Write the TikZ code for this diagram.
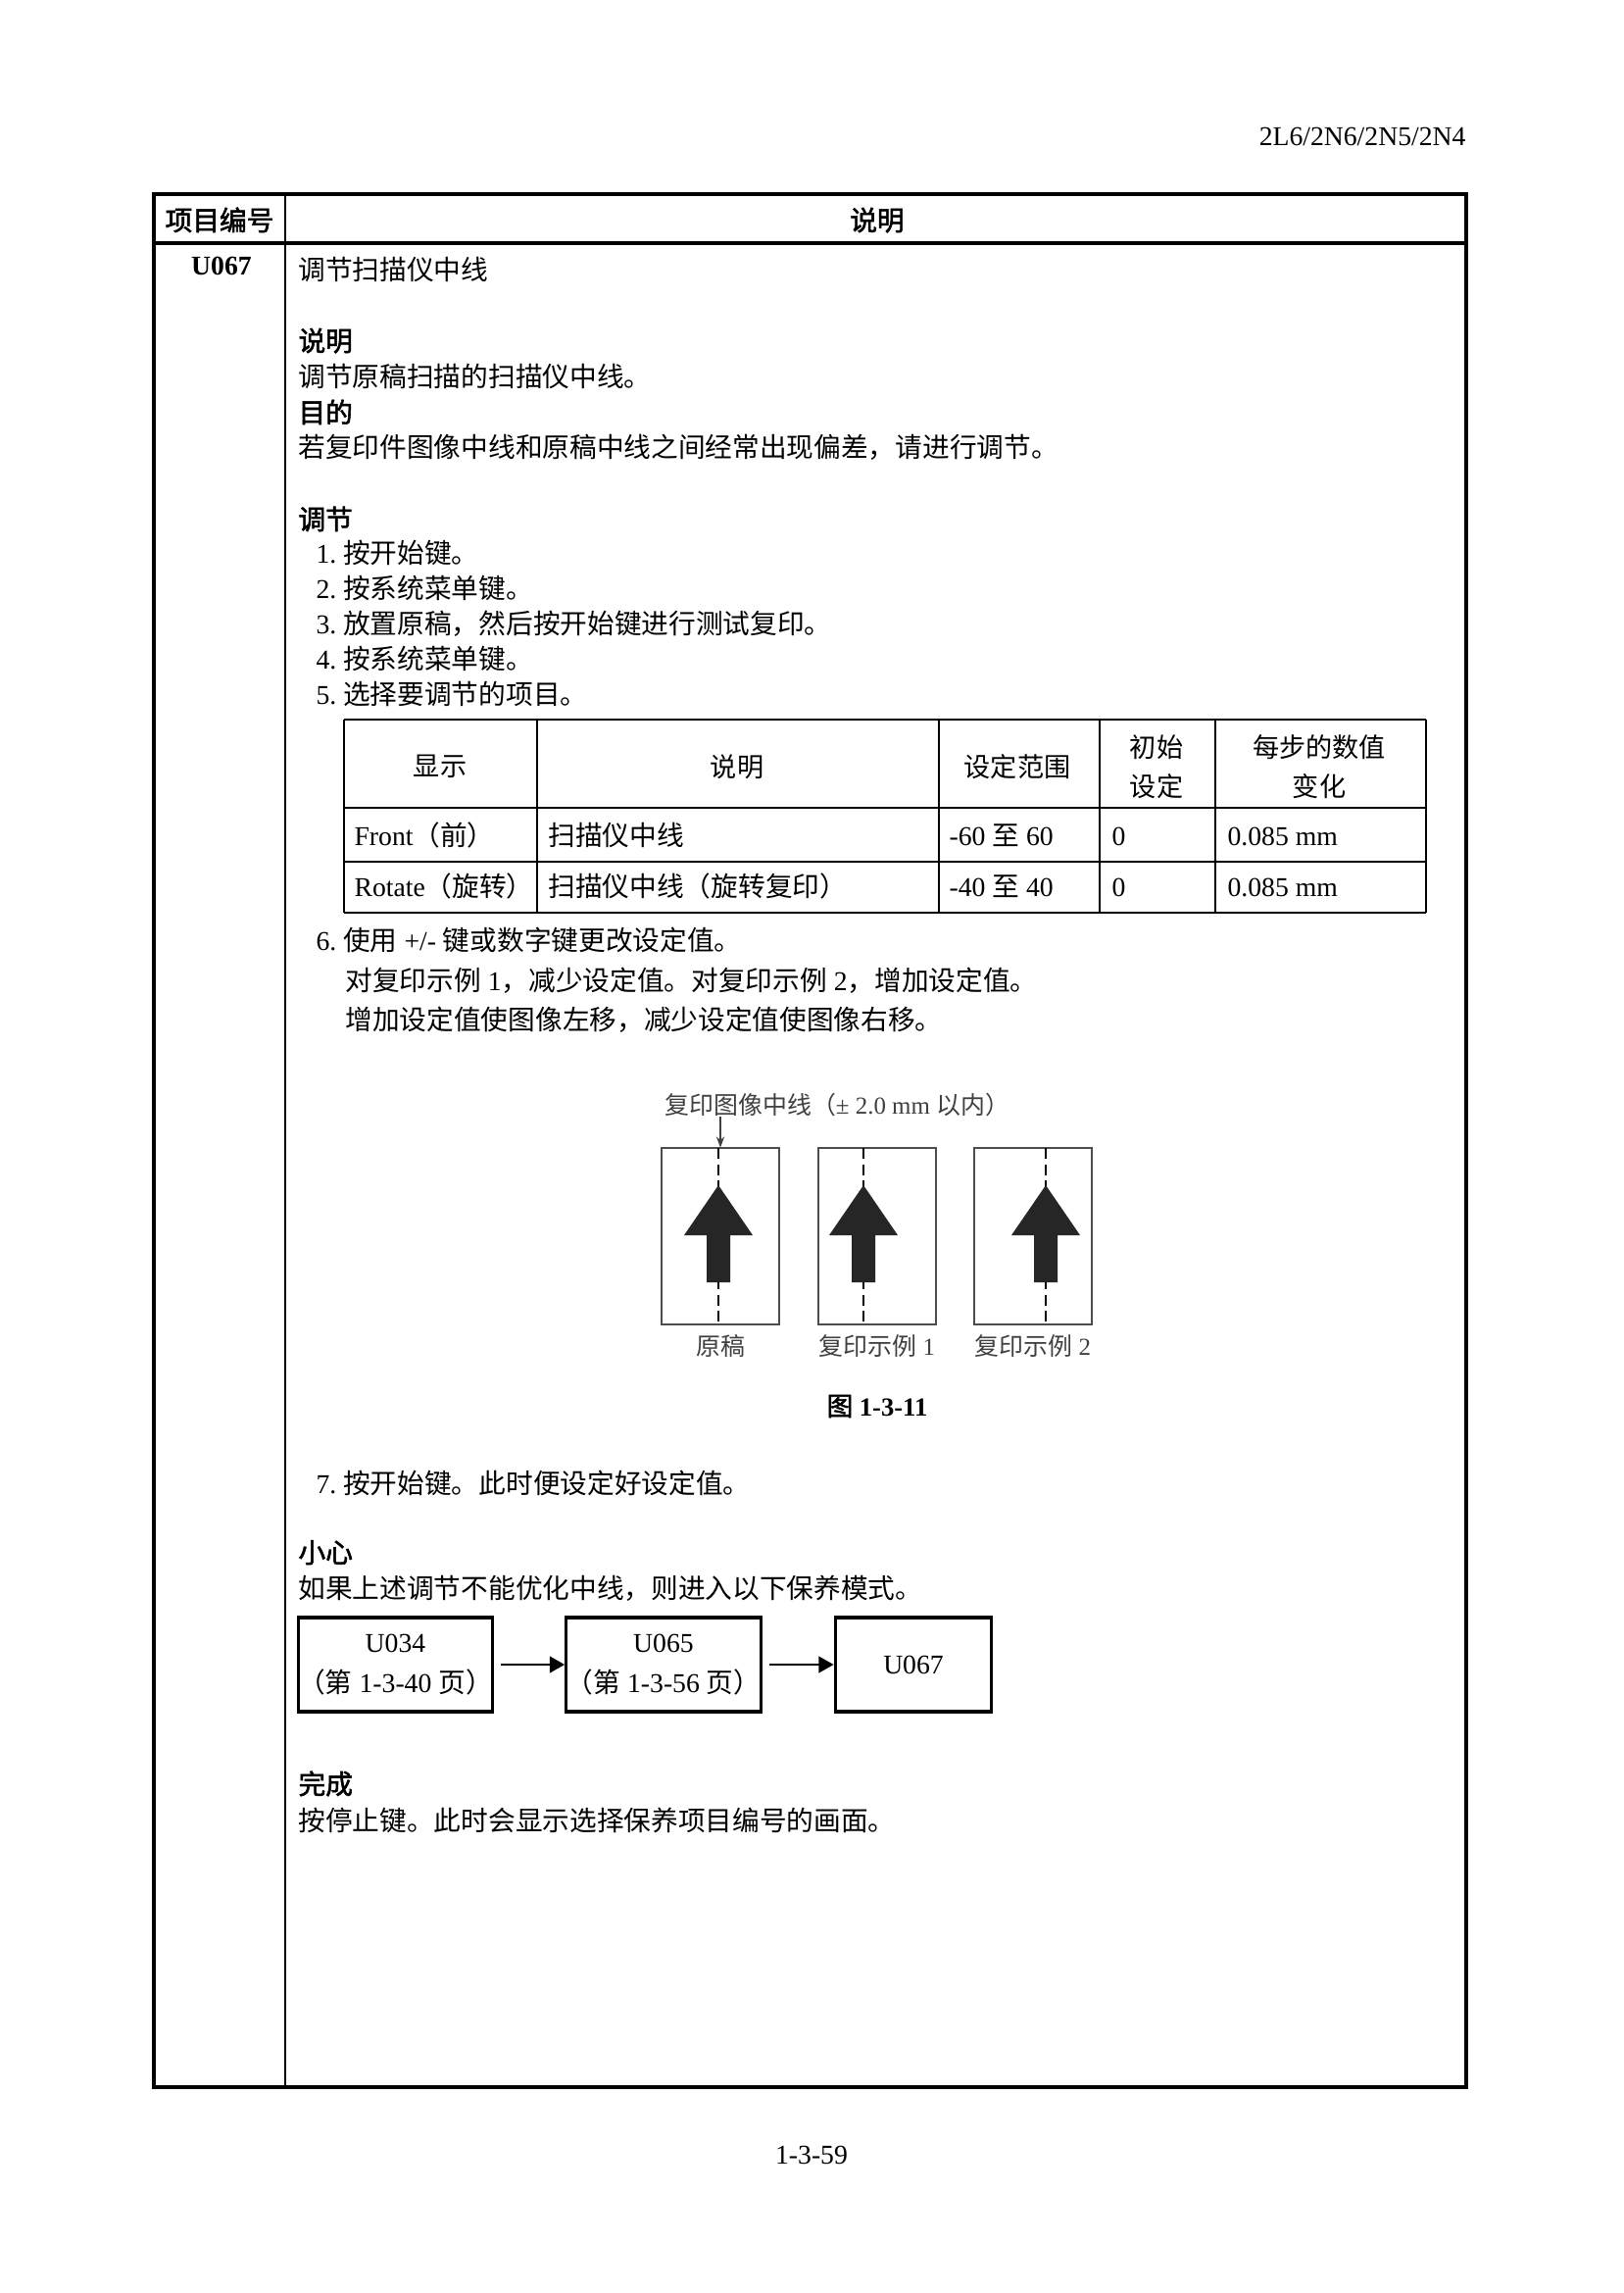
\documentclass[tikz,border=0pt]{standalone}
\usepackage{fontspec}
\setmainfont{Liberation Serif}
\newfontfamily\cjk{Noto Sans CJK SC}[BoldFont={Noto Sans CJK SC},BoldFeatures={FakeBold=2}]
\usetikzlibrary{arrows.meta}
\newcommand\zh[1]{{\cjk #1}}

\begin{document}
\begin{tikzpicture}[
  x=0.0127cm, y=-0.0127cm,
  txt/.style={anchor=base west,inner sep=0pt,font=\fontsize{10}{12}\selectfont},
  bold/.style={txt,font=\fontsize{10}{12}\selectfont\bfseries},
  cell/.style={anchor=base west,inner sep=0pt,font=\fontsize{10}{12}\selectfont},
  cellzh/.style={inner sep=0pt,align=center,font=\fontsize{9.8}{14.4}\selectfont\cjk},
  frame/.style={line width=1.2pt},
  rule/.style={line width=0.7pt},
  paper/.style={draw=black!70,line width=0.6pt,minimum width=43.2pt,minimum height=64.8pt,inner sep=0pt},
  ctrline/.style={line width=0.7pt,dash pattern=on 4pt off 2pt},
  upfill/.style={fill=black!85},
  figtxt/.style={anchor=base,inner sep=0pt,text=black!75,font=\fontsize{9}{11}\selectfont},
  umode/.style={draw,line width=1.2pt,minimum height=34.6pt,align=center,inner sep=0pt,font=\fontsize{10}{15}\selectfont},
  flow/.style={-{Triangle[length=5.5pt,width=6pt]},line width=0.8pt,shorten <=2.5pt}
]
\fill[white] (0,0) rectangle (1656,2339);
\useasboundingbox (0,0) rectangle (1656,2339);

% page head and foot
\node[anchor=base east,inner sep=0pt,font=\fontsize{10}{12}\selectfont] (model) at (1496,149) {2L6/2N6/2N5/2N4};
\node[anchor=base,inner sep=0pt,font=\fontsize{10}{12}\selectfont] (pageno) at (828,2207) {1-3-59};

% main table
\draw[frame] (157,198) rectangle (1496,2129);
\draw[frame] (157,248) -- (1496,248);
\draw[rule] (291,198) -- (291,2129);
\node[bold,anchor=base] (colA) at (224,235) {\zh{项目编号}};
\node[bold,anchor=base] (colB) at (895,235) {\zh{说明}};
\node[bold,anchor=base] (code) at (226,281) {U067};

\node[txt] (title) at (304,286) {\zh{调节扫描仪中线}};
\node[bold] (hdesc) at (304,358) {\zh{说明}};
\node[txt] (desc) at (304,395) {\zh{调节原稿扫描的扫描仪中线。}};
\node[bold] (haim) at (304,431) {\zh{目的}};
\node[txt] (aim) at (304,467) {\zh{若复印件图像中线和原稿中线之间经常出现偏差，请进行调节。}};
\node[bold] (hadj) at (304,540) {\zh{调节}};
\foreach \i/\yy/\s in {1/565/{按开始键。},2/601/{按系统菜单键。},3/637/{放置原稿，然后按开始键进行测试复印。},4/673/{按系统菜单键。},5/709/{选择要调节的项目。}}
  \node[txt] (step\i) at (322,\yy+10) {\i.\ \zh{\s}};

% setting table
\foreach \yy in {734,824,879,931} \draw[rule] (351,\yy) -- (1455,\yy);
\foreach \xx in {351,548,958,1122,1240,1455} \draw[rule] (\xx,734) -- (\xx,931);
\foreach \xx/\s/\nm in {449/显示/hA,752/说明/hB,1038/设定范围/hC,1180/{初始\\设定}/hD,1346/{每步的数值\\变化}/hE}
  \node[cellzh] (\nm) at (\xx,782) {\s};
\node[cell] (fA) at (361,862) {Front\zh{（前）}};
\node[cell] (fB) at (559,862) {\zh{扫描仪中线}};
\node[cell] (fC) at (968,862) {-60 \zh{至} 60};
\node[cell] (fD) at (1134,862) {0};
\node[cell] (fE) at (1252,862) {0.085 mm};
\node[cell] (rA) at (361,914) {Rotate\zh{（旋转）}};
\node[cell] (rB) at (559,914) {\zh{扫描仪中线（旋转复印）}};
\node[cell] (rC) at (968,914) {-40 \zh{至} 40};
\node[cell] (rD) at (1134,914) {0};
\node[cell] (rE) at (1252,914) {0.085 mm};

\node[txt] (step6) at (322,969) {6.\ \zh{使用} +/- \zh{键或数字键更改设定值。}};
\node[txt] (step6b) at (352,1010) {\zh{对复印示例} 1\zh{，减少设定值。对复印示例} 2\zh{，增加设定值。}};
\node[txt] (step6c) at (352,1050) {\zh{增加设定值使图像左移，减少设定值使图像右移。}};

% figure 1-3-11
\node[figtxt,anchor=base west] (capt) at (678,1136) {\zh{复印图像中线（}± 2.0 mm \zh{以内）}};
\foreach \cx/\sh/\nm/\lab in {735/-2/orig/{\zh{原稿}},895/-14/copyA/{\zh{复印示例} 1},1054/13/copyB/{\zh{复印示例} 2}} {
  \node[paper] (\nm) at (\cx,1261) {};
  \draw[ctrline] ({\cx+\sh},1171) -- ({\cx+\sh},1351);
  \fill[upfill] ({\cx+\sh},1209) -- ({\cx+\sh+35},1260) -- ({\cx+\sh+12},1260) -- ({\cx+\sh+12},1308)
    -- ({\cx+\sh-12},1308) -- ({\cx+\sh-12},1260) -- ({\cx+\sh-35},1260) -- cycle;
  \node[figtxt] (\nm-lab) at (\cx,1382) {\lab};
}
\draw[-{Stealth[length=4pt,width=3pt]},line width=0.5pt,black!75] (capt.south -| orig.north) -- (orig.north);
\node[anchor=base,inner sep=0pt,font=\fontsize{9.6}{11}\selectfont\bfseries] (figno) at (895,1444) {\zh{图} 1-3-11};

\node[txt] (step7) at (322,1523) {7.\ \zh{按开始键。此时便设定好设定值。}};
\node[bold] (hcare) at (304,1594) {\zh{小心}};
\node[txt] (care) at (304,1630) {\zh{如果上述调节不能优化中线，则进入以下保养模式。}};

% maintenance modes
\node[umode,minimum width=69.5pt] (m034) at (403.5,1698) {U034\\\zh{（第} 1-3-40 \zh{页）}};
\node[umode,minimum width=67.7pt] (m065) at (677,1698) {U065\\\zh{（第} 1-3-56 \zh{页）}};
\node[umode,minimum width=57.6pt] (m067) at (932,1698) {U067};
\draw[flow] (m034) -- (m065);
\draw[flow] (m065) -- (m067);

\node[bold] (hend) at (304,1830) {\zh{完成}};
\node[txt] (fin) at (304,1867) {\zh{按停止键。此时会显示选择保养项目编号的画面。}};

\end{tikzpicture}
\end{document}
